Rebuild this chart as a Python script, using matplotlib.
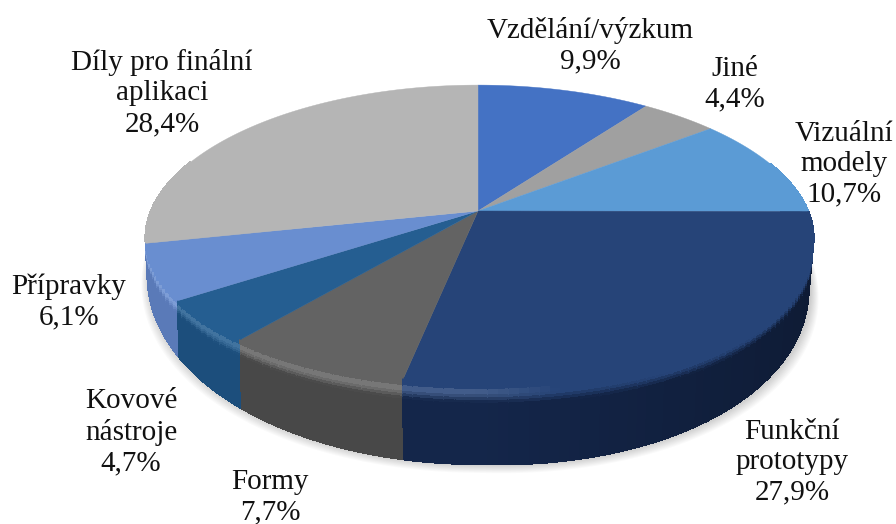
import numpy as np
import matplotlib
matplotlib.use('Agg')
import matplotlib.pyplot as plt
from matplotlib.colors import to_rgb

# clockwise from 12 o'clock
labels = ['Vzdělání/výzkum\n9,9%', 'Jiné\n4,4%', 'Vizuální\nmodely\n10,7%',
          'Funkční\nprototypy\n27,9%', 'Formy\n7,7%', 'Kovové\nnástroje\n4,7%',
          'Přípravky\n6,1%', 'Díly pro finální\naplikaci\n28,4%']
values = [9.9, 4.4, 10.7, 27.9, 7.7, 4.7, 6.1, 28.4]
top_colors = ['#4472C4', '#A0A0A0', '#5B9BD5', '#264478', '#636363', '#255E91', '#698ED0', '#B5B5B5']
side_colors = ['#3A62A8', '#888888', '#4E85B6', '#14264A', '#484848', '#1C4E7C', '#5A7AB8', '#A8A8A8']
label_x = [590, 735, 844, 792, 270, 131, 69, 162]
label_y = [46, 84, 164, 462, 497, 432, 302, 93]

# pie geometry in pixels, with a simple perspective
cx, cy = 478, 211
rx_right, rx_left, ry = 330, 327, 145
persp_x, persp_y = 0.18, 0.1515
depth_y, bottom_ry = 240, 190
bottom_rx = 325


def top_edge(theta):
    u, v = np.sin(theta), -np.cos(theta)
    rx = np.where(u > 0, rx_right, rx_left)
    return cx + rx * u / (1 - persp_x * v), cy + ry * v / (1 - persp_y * v)


def bottom_edge(theta):
    u, v = np.sin(theta), -np.cos(theta)
    x = cx + bottom_rx * u / (1 - persp_x * v)
    y = depth_y + bottom_ry * v / (1 - persp_y * v) + 14 * np.clip(u, 0, 1)
    return x, y


def mix(a, b, t):
    return tuple(np.array(a) * (1 - t) + np.array(b) * t)


fig = plt.figure(figsize=(8.96, 5.24), dpi=100)
ax = fig.add_axes([0, 0, 1, 1])
ax.set_xlim(0, 896)
ax.set_ylim(524, 0)
ax.axis('off')

# soft shadow under the front half of the pie
front_t = np.linspace(np.pi / 2 - 0.1, 3 * np.pi / 2 + 0.1, 120)
bx, by = bottom_edge(front_t)
for grow in range(10, 0, -1):
    ax.fill(cx + (bx - cx) * (1 + grow * 0.0025) + 2, by + grow * 0.9,
            color='#000000', alpha=0.018, lw=0, zorder=1)

edges = np.cumsum([0] + values) / sum(values) * 2 * np.pi

# collect wall facets and paint them back to front
facets = []
for i in range(len(values)):
    a0, a1 = edges[i], edges[i + 1]
    steps = max(2, int((a1 - a0) / np.radians(1.5)))
    grid = np.linspace(a0, a1, steps + 1)
    for j in range(steps):
        if np.cos((grid[j] + grid[j + 1]) / 2) <= 0.35:
            facets.append((i, grid[j], grid[j + 1]))
facets.sort(key=lambda f: -np.cos((f[1] + f[2]) / 2))

bands = np.linspace(0, 1, 31)
for i, a, b in facets:
    top_c = to_rgb(top_colors[i])
    u_mid = max(0, np.sin((a + b) / 2))
    # darker towards the right hand side
    wall = tuple(np.array(to_rgb(side_colors[i])) * (1 - 0.3 * u_mid))
    flat = 0.08 + 0.12 * u_mid
    glow = 0.13 * (1 - min(1, u_mid * 5))
    x0a, y0a = top_edge(a)
    x0b, y0b = top_edge(b)
    x1a, y1a = bottom_edge(a)
    x1b, y1b = bottom_edge(b)
    for k in range(len(bands) - 1):
        t0, t1 = bands[k], bands[k + 1]
        if t0 < flat:
            col = top_c
        elif t0 < flat + 0.06:
            col = mix(top_c, (1, 1, 1), glow)
        elif t0 < flat + 0.16:
            col = mix(mix(top_c, (1, 1, 1), glow), wall, (t0 - flat - 0.06) / 0.1)
        else:
            col = wall
        xs = [x0a + (x1a - x0a) * t0, x0b + (x1b - x0b) * t0,
              x0b + (x1b - x0b) * t1, x0a + (x1a - x0a) * t1]
        ys = [y0a + (y1a - y0a) * t0, y0b + (y1b - y0b) * t0,
              y0b + (y1b - y0b) * t1, y0a + (y1a - y0a) * t1]
        ax.fill(xs, ys, facecolor=col, edgecolor=col, lw=1.0,
                antialiased=False, zorder=2)

# top face
for i in range(len(values)):
    grid = np.linspace(edges[i], edges[i + 1], 80)
    ex, ey = top_edge(grid)
    ax.fill(np.r_[cx, ex], np.r_[cy, ey], color=top_colors[i], lw=0.3, zorder=3)

for i in range(len(labels)):
    ax.text(label_x[i], label_y[i], labels[i], ha='center', va='center',
            family='Liberation Serif', fontsize=21, color='#111111',
            linespacing=1.22, zorder=5)

fig.savefig('out.png', dpi=100)
